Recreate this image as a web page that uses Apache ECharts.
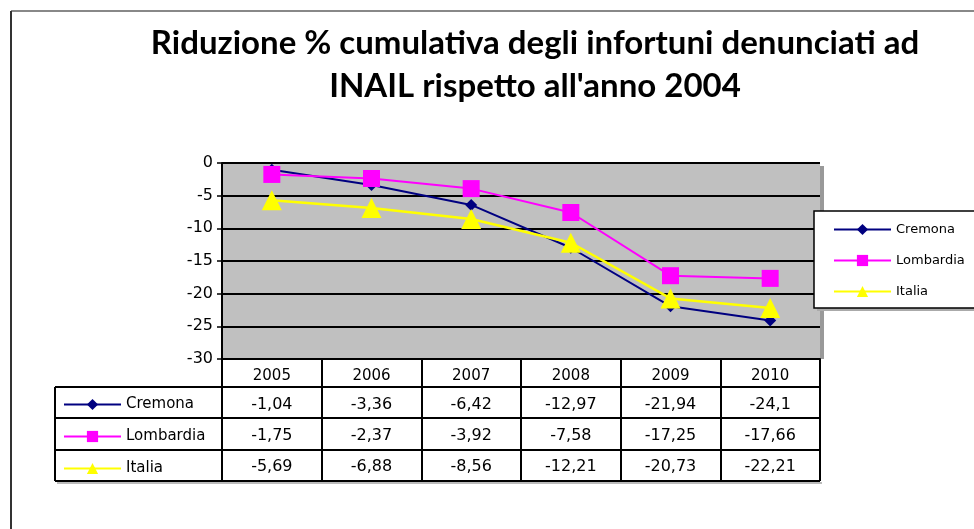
<!DOCTYPE html>
<html><head><meta charset="utf-8">
<script src="https://cdn.jsdelivr.net/npm/echarts@6/dist/echarts.min.js"></script>
<style>html,body{margin:0;padding:0;background:#fff}#c{width:974px;height:529px}</style>
</head><body><div id="c"></div>
<script>
const years = ['2005', '2006', '2007', '2008', '2009', '2010'];
const seriesNames = ['Cremona', 'Lombardia', 'Italia'];
const cremona = [-1.04, -3.36, -6.42, -12.97, -21.94, -24.1];
const lombardia = [-1.75, -2.37, -3.92, -7.58, -17.25, -17.66];
const italia = [-5.69, -6.88, -8.56, -12.21, -20.73, -22.21];
const titleText = 'Riduzione % cumulativa degli infortuni denunciati ad\nINAIL rispetto all\'anno 2004';

const FONT = 'DejaVu Sans';
const chart = echarts.init(document.getElementById('c'), null, {renderer: 'canvas'});

const allSeries = [cremona, lombardia, italia];
const colors = ['#000080', '#ff00ff', '#ffff00'];
const symbols = ['diamond', 'rect', 'triangle'];
const symbolSizes = [12, 17, 20];

chart.setOption({
  animation: false,
  backgroundColor: '#fff',
  title: {
    text: titleText,
    left: 530, top: 17, textAlign: 'center',
    textStyle: {fontFamily: 'Lato', fontWeight: 'bold', fontSize: 33, lineHeight: 43, color: '#000'}
  },
  grid: {left: 222, top: 163, width: 598, height: 196, show: true, backgroundColor: '#c0c0c0', borderWidth: 0},
  xAxis: {
    type: 'category', data: years, boundaryGap: true,
    axisLine: {onZero: false, lineStyle: {color: '#000', width: 2}},
    axisTick: {show: true, length: 122, lineStyle: {color: '#000', width: 2}},
    axisLabel: {margin: 10, fontSize: 15, color: '#000', fontFamily: FONT},
    splitLine: {show: false}
  },
  yAxis: {
    type: 'value', min: -30, max: 0, interval: 5,
    axisLine: {show: true, lineStyle: {color: '#000', width: 2}},
    axisTick: {show: true, length: 5, lineStyle: {color: '#000', width: 1.5}},
    axisLabel: {margin: 9, fontSize: 16, color: '#000', fontFamily: FONT},
    splitLine: {show: true, lineStyle: {color: '#000', width: 2}}
  },
  legend: [
    {data: seriesNames, orient: 'vertical', left: 63, top: 397, padding: 0,
     itemWidth: 57, itemHeight: 14, itemGap: 17, selectedMode: false,
     textStyle: {fontSize: 15, color: '#000', fontFamily: FONT}},
    {data: seriesNames, orient: 'vertical', left: 833, top: 223, padding: 0,
     itemWidth: 57, itemHeight: 14, itemGap: 18, selectedMode: false,
     textStyle: {fontSize: 13, color: '#000', fontFamily: FONT}}
  ],
  series: seriesNames.map((n, i) => ({
    name: n, type: 'line', data: allSeries[i],
    symbol: symbols[i], symbolSize: symbolSizes[i], showAllSymbol: true,
    lineStyle: {color: colors[i], width: i === 2 ? 2.5 : 2},
    itemStyle: {color: colors[i], borderWidth: 0},
    z: 3 + i
  }))
});

// Table + decorations
const rowY = [404, 435, 466];
const g = [];
// outer frame
g.push({type: 'line', shape: {x1: 11, y1: 11, x2: 974, y2: 11}, style: {stroke: '#888', lineWidth: 2}, silent: true});
g.push({type: 'line', shape: {x1: 11, y1: 11, x2: 11, y2: 529}, style: {stroke: '#333', lineWidth: 2}, silent: true});
// plot shadow
g.push({type: 'rect', shape: {x: 820, y: 166, width: 4, height: 193}, style: {fill: '#999'}, z: -1, silent: true});
// legend box
g.push({type: 'rect', shape: {x: 817, y: 214, width: 200, height: 97}, style: {fill: '#aaa'}, z: 0, silent: true});
g.push({type: 'rect', shape: {x: 814, y: 211, width: 200, height: 97}, style: {fill: '#fff', stroke: '#000', lineWidth: 1.5}, z: 1, silent: true});
// table shadow
g.push({type: 'rect', shape: {x: 57, y: 482, width: 765, height: 2}, style: {fill: '#bbb'}, z: 0, silent: true});
// table lines
[387, 418, 450, 481].forEach(y => g.push({type: 'line', shape: {x1: 55, y1: y, x2: 820, y2: y}, style: {stroke: '#000', lineWidth: 2}, silent: true, z: 10}));
g.push({type: 'line', shape: {x1: 55, y1: 387, x2: 55, y2: 481}, style: {stroke: '#000', lineWidth: 2}, silent: true, z: 10});
// table values
allSeries.forEach((arr, si) => {
  arr.forEach((v, j) => {
    const x = chart.convertToPixel({xAxisIndex: 0}, j);
    g.push({type: 'text', x: x, y: rowY[si] + 1, silent: true, z: 10,
      style: {text: String(v).replace('.', ','), fill: '#000', font: '16px "' + FONT + '"', textAlign: 'center', textVerticalAlign: 'middle'}});
  });
});
chart.setOption({graphic: {elements: g}});
</script>
</body></html>
